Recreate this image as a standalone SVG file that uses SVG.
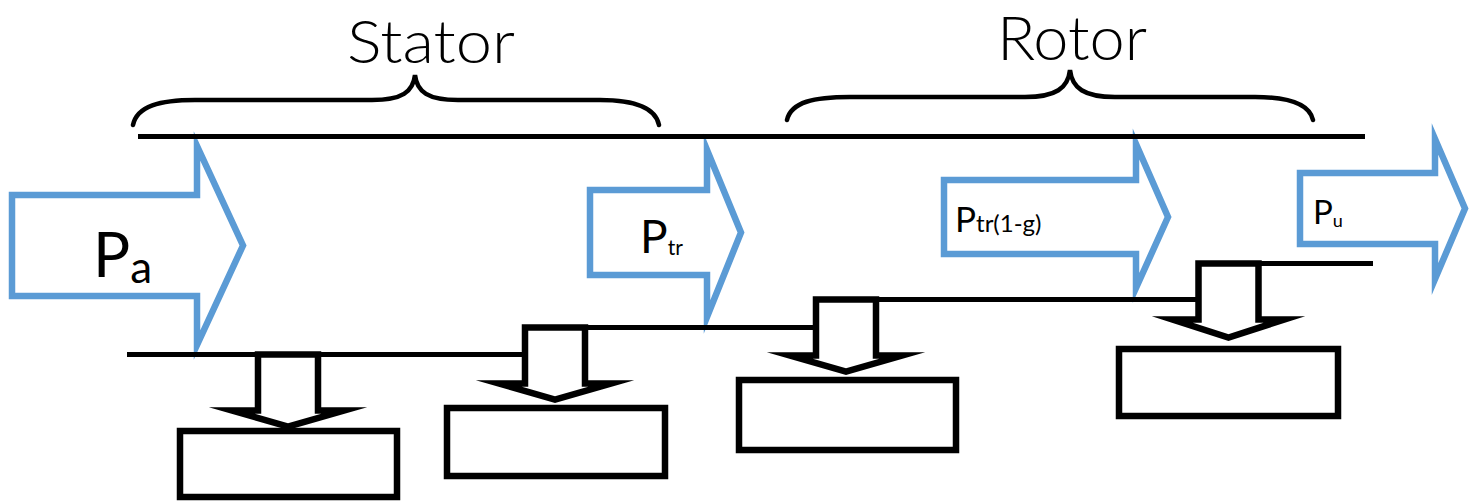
<svg xmlns="http://www.w3.org/2000/svg" width="1482" height="501" viewBox="0 0 1482 501">
  <style>
    .flow { fill: #ffffff; stroke: #5B9BD5; stroke-width: 6.5; stroke-linejoin: miter; stroke-miterlimit: 10; }
    .rail { stroke: #000000; stroke-width: 5; fill: none; }
    .loss { fill: #ffffff; stroke: #000000; stroke-width: 6.5; stroke-linejoin: miter; stroke-miterlimit: 12; }
    .sink { fill: #ffffff; stroke: #000000; stroke-width: 6.5; }
    .brace { fill: none; stroke: #000000; stroke-width: 4.5; stroke-linecap: round; }
    .title { font-family: Lato, "Liberation Sans", sans-serif; font-weight: 300; fill: #000000; }
    .lbl { font-family: Lato, "Liberation Sans", sans-serif; fill: #000000; }
  </style>

  <!-- Section headings with braces -->
  <g id="stator">
    <path class="brace" d="M133,125 C137,106 160,100 195,100 L372,100 C402,100 413,92 415,75 C417,92 428,100 458,100 L600,100 C640,100 656,110 659,125"/>
    <text class="title" x="347" y="63" font-size="60" textLength="168" lengthAdjust="spacingAndGlyphs">Stator</text>
  </g>
  <g id="rotor">
    <path class="brace" d="M787,120 C791,102 814,97 850,97 L1025,97 C1056,97 1068,88 1070,70 C1072,88 1084,97 1115,97 L1255,97 C1294,97 1310,106 1313,120"/>
    <text class="title" x="997" y="60" font-size="62" textLength="150" lengthAdjust="spacingAndGlyphs">Rotor</text>
  </g>

  <!-- Power flow arrows -->
  <g id="power-input">
    <polygon class="flow" points="12,195 197,195 197,146 243,245.5 197,345 197,296 12,296"/>
    <text class="lbl" x="93" y="277" font-size="62">P<tspan dy="6" font-size="44">a</tspan></text>
  </g>
  <g id="power-transmitted">
    <polygon class="flow" points="590,190 707,190 707,150 741,232.5 707,317 707,275 590,275"/>
    <text class="lbl" x="640" y="253" font-size="46">P<tspan dy="2" font-size="21">tr</tspan></text>
  </g>
  <g id="power-mechanical">
    <polygon class="flow" points="944,180 1136,180 1136,144 1168,217 1136,288 1136,254 944,254"/>
    <text class="lbl" x="955" y="232" font-size="35">P<tspan font-size="24">tr(1-g)</tspan></text>
  </g>
  <g id="power-useful">
    <polygon class="flow" points="1300,173 1435,173 1435,139 1465,208.5 1435,279 1435,244 1300,244"/>
    <text class="lbl" x="1313" y="224" font-size="33">P<tspan dy="3" font-size="18">u</tspan></text>
  </g>

  <!-- Connectors: boundary rails -->
  <g id="connectors">
    <line class="rail" x1="138" y1="136.5" x2="1365" y2="136.5"/>
    <line class="rail" x1="127" y1="354.5" x2="525" y2="354.5"/>
    <line class="rail" x1="580" y1="327.5" x2="816" y2="327.5"/>
    <line class="rail" x1="848" y1="299.5" x2="1198.5" y2="299.5"/>
    <line class="rail" x1="1228" y1="263.5" x2="1373" y2="263.5"/>
  </g>

  <!-- Loss branches: down arrows into empty boxes -->
  <g id="loss-1">
    <polygon class="loss" points="258,354.5 258,410.5 232,410.5 288,426.5 344,410.5 318,410.5 318,354.5"/>
    <rect class="sink" x="180" y="431" width="217" height="66"/>
  </g>
  <g id="loss-2">
    <polygon class="loss" points="525,327.5 525,383.5 499,383.5 555,399.5 611,383.5 585,383.5 585,327.5"/>
    <rect class="sink" x="447" y="408" width="218" height="68"/>
  </g>
  <g id="loss-3">
    <polygon class="loss" points="816,299.5 816,355.5 790,355.5 846,371.5 902,355.5 876,355.5 876,299.5"/>
    <rect class="sink" x="739" y="380" width="217" height="70"/>
  </g>
  <g id="loss-4">
    <polygon class="loss" points="1198.5,263.5 1198.5,319.5 1172.5,319.5 1228.5,337.5 1284.5,319.5 1258.5,319.5 1258.5,263.5"/>
    <rect class="sink" x="1119" y="349" width="219" height="67"/>
  </g>
</svg>
